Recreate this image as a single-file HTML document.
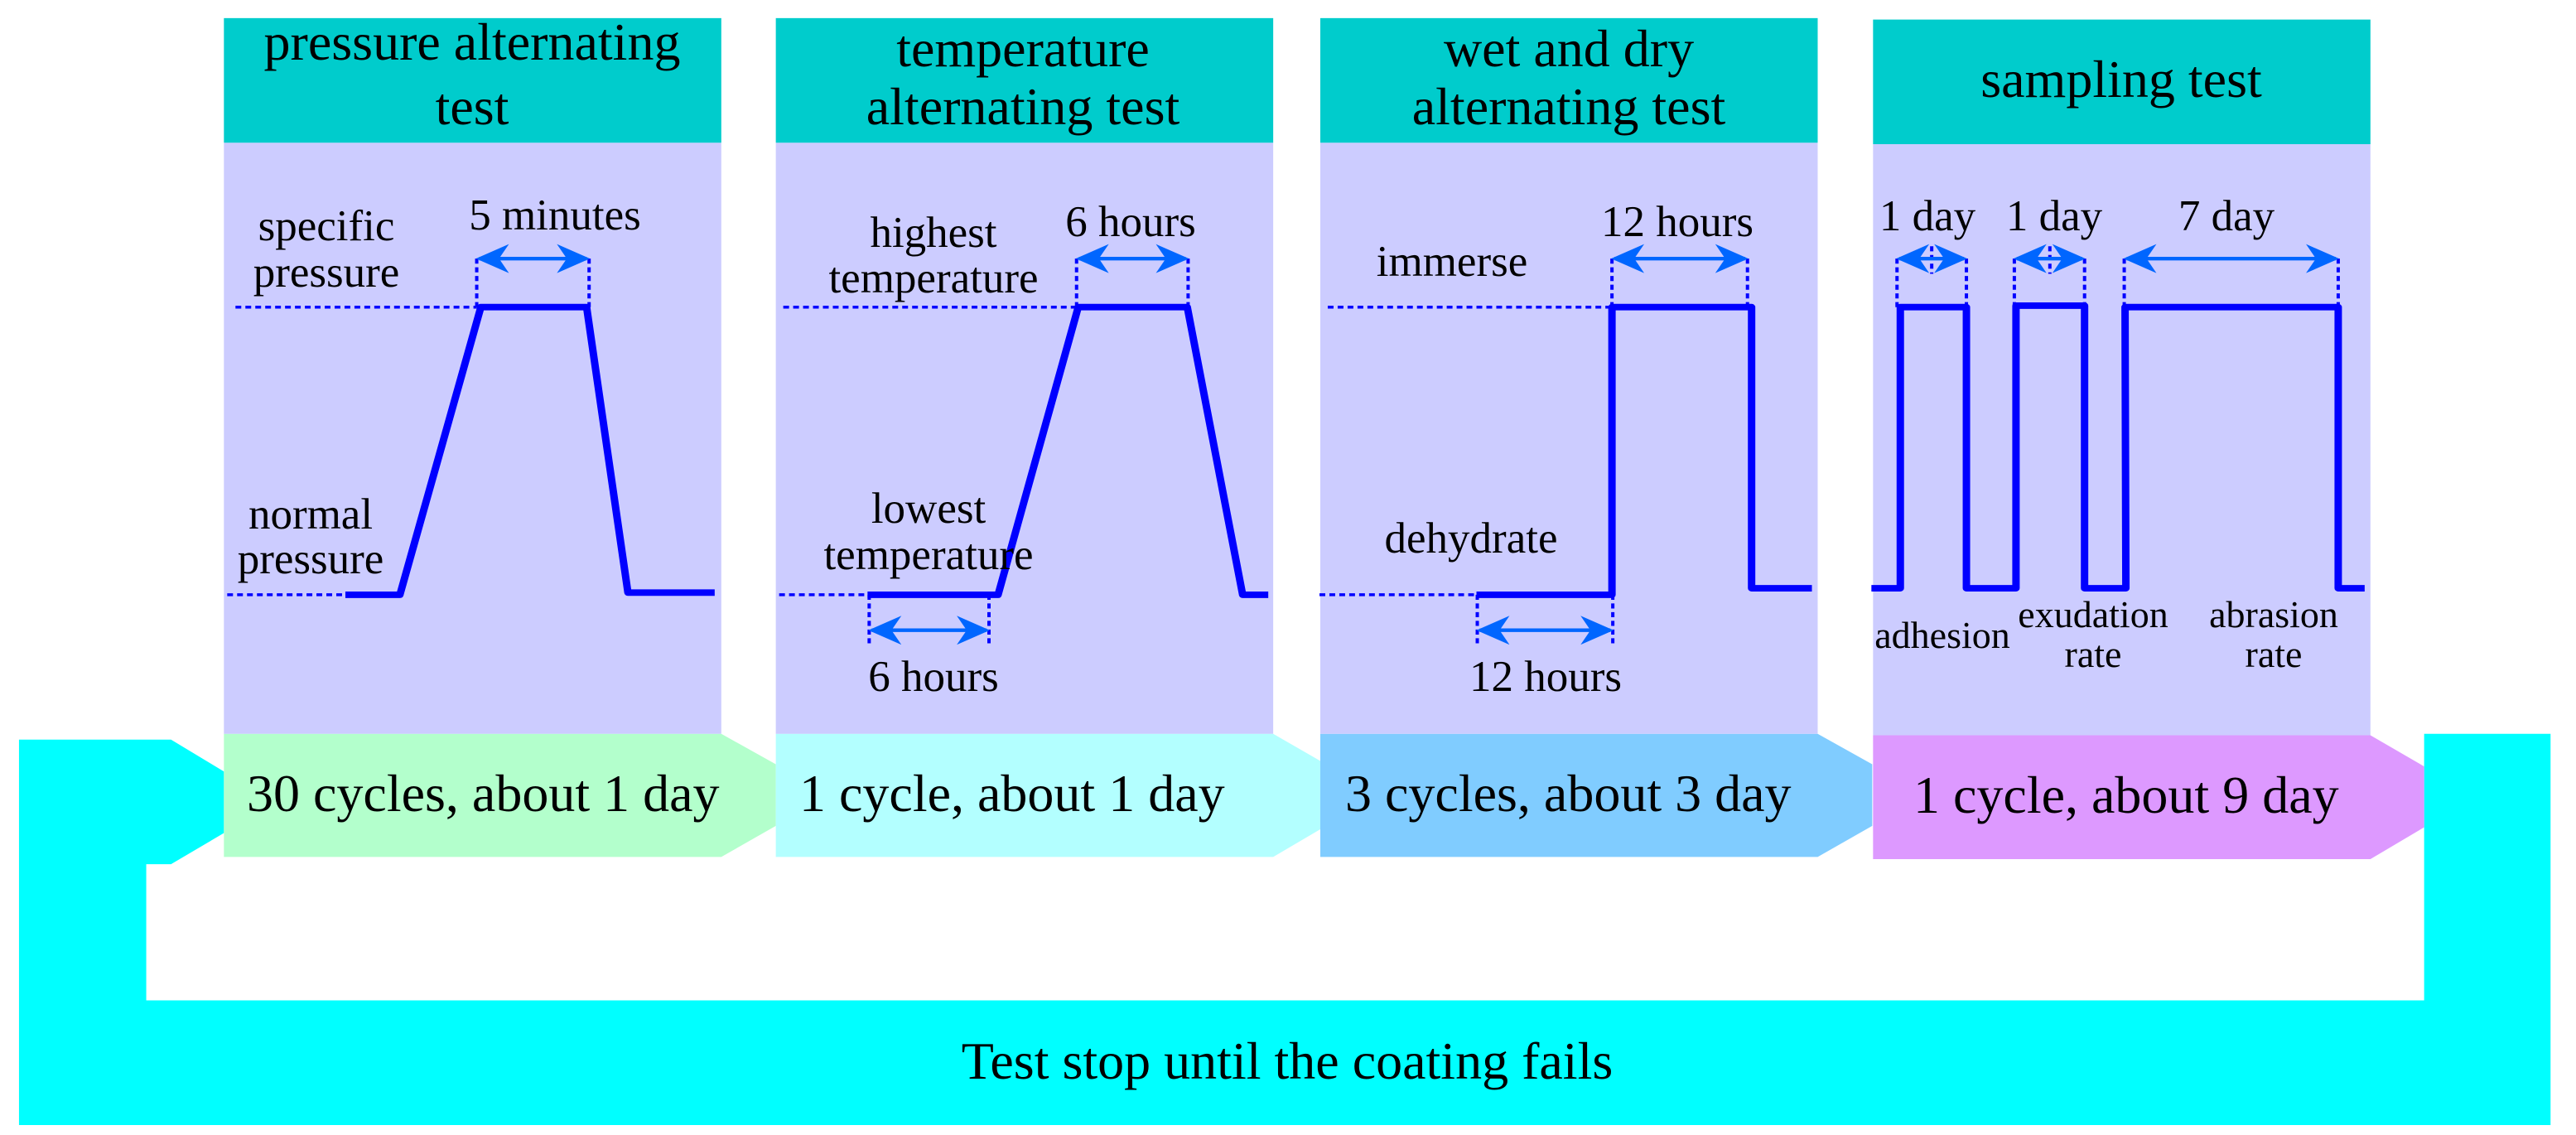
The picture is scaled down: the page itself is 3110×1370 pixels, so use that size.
<!DOCTYPE html>
<html><head><meta charset="utf-8"><style>
html,body{margin:0;padding:0;background:#fff;width:3110px;height:1370px;overflow:hidden}
svg{display:block}
text{font-family:"Liberation Serif",serif;fill:#000}
</style></head><body>
<svg width="3110" height="1370" viewBox="0 0 3110 1370">
<defs>
<marker id="ah" viewBox="0 0 10 10" refX="9" refY="5" markerWidth="9" markerHeight="8" orient="auto-start-reverse" markerUnits="strokeWidth"><path d="M0,0 L10,5 L0,10 L3,5 z" fill="#0066ff"/></marker>
</defs>
<g transform="scale(0.9975,0.8744)">
  <path fill="#00ffff" d="M23,1021 L207,1021 L271,1065 L271,1150 L207,1193 L177,1193 L177,1381 L2934,1381 L2934,1013 L3087,1013 L3087,1553 L23,1553 Z"/>
  <path fill="#b3ffcc" d="M271,1013 L873,1013 L939,1055 L939,1140 L873,1183 L271,1183 Z"/>
  <path fill="#b3ffff" d="M939,1013 L1541,1013 L1605,1055 L1605,1140 L1541,1183 L939,1183 Z"/>
  <path fill="#80ccff" d="M1598,1013 L2200,1013 L2266,1055 L2266,1140 L2200,1183 L1598,1183 Z"/>
  <path fill="#dd99ff" d="M2267,1015 L2869,1015 L2934,1058 L2934,1142 L2869,1186 L2267,1186 Z"/>
  <rect x="271" y="197" width="602" height="816" fill="#ccccff"/>
  <rect x="939" y="197" width="602" height="816" fill="#ccccff"/>
  <rect x="1598" y="197" width="602" height="816" fill="#ccccff"/>
  <rect x="2267" y="199" width="602" height="816" fill="#ccccff"/>
  <rect x="271" y="25" width="602" height="172" fill="#00cccc"/>
  <rect x="939" y="25" width="602" height="172" fill="#00cccc"/>
  <rect x="1598" y="25" width="602" height="172" fill="#00cccc"/>
  <rect x="2267" y="27" width="602" height="172" fill="#00cccc"/>
  <g stroke="#0000ff" stroke-width="4" stroke-dasharray="7,5" fill="none">
    <path d="M285,424 H577 M577,357 V424 M713,357 V424 M275,821 H418"/>
    <path d="M948,424 H1303 M1303,357 V424 M1438,357 V424 M943,821 H1050 M1052,821 V890 M1197,821 V890"/>
    <path d="M1607,424 H1951 M1951,357 V424 M2115,357 V424 M1597,821 H1787 M1788,821 V890 M1952,821 V890"/>
    <path d="M2296,357 V424 M2380,357 V424 M2438,357 V424 M2523,357 V424 M2571,357 V424 M2830,357 V424 M2338,340 V378 M2481,340 V378"/>
  </g>
  <g stroke="#0000ff" stroke-width="9" fill="none" stroke-linejoin="round">
    <polyline points="418,821 484,821 582,424 710,424 760,818 865,818"/>
    <polyline points="1050,821 1208,821 1305,424 1437,424 1504,821 1535,821"/>
    <polyline points="1787,821 1951,821 1951,424 2120,424 2120,812 2193,812"/>
    <polyline points="2265,812 2300,812 2300,424 2380,424 2380,812 2440,812 2440,422 2523,422 2523,812 2573,812 2572,424 2830,424 2830,812 2862,812"/>
  </g>
  <g stroke="#0066ff" stroke-width="5" fill="none" marker-start="url(#ah)" marker-end="url(#ah)">
    <line x1="580" y1="357" x2="710" y2="357"/>
    <line x1="1306" y1="357" x2="1435" y2="357"/>
    <line x1="1055" y1="870" x2="1194" y2="870"/>
    <line x1="1954" y1="357" x2="2112" y2="357"/>
    <line x1="1791" y1="870" x2="1949" y2="870"/>
    <line x1="2299" y1="357" x2="2377" y2="357"/>
    <line x1="2441" y1="357" x2="2520" y2="357"/>
    <line x1="2574" y1="357" x2="2827" y2="357"/>
  </g>
</g>
<g font-size="64" text-anchor="middle">
  <text x="570" y="72">pressure alternating</text>
  <text x="570" y="150">test</text>
  <text x="1235" y="80">temperature</text>
  <text x="1235" y="150">alternating test</text>
  <text x="1894" y="80">wet and dry</text>
  <text x="1894" y="150">alternating test</text>
  <text x="2561" y="117">sampling test</text>
</g>
<g font-size="53" text-anchor="middle">
  <text x="394" y="290">specific</text>
  <text x="394" y="346">pressure</text>
  <text x="670" y="277">5 minutes</text>
  <text x="375" y="638">normal</text>
  <text x="375" y="692">pressure</text>
  <text x="1127" y="298">highest</text>
  <text x="1127" y="353">temperature</text>
  <text x="1365" y="285">6 hours</text>
  <text x="1121" y="631">lowest</text>
  <text x="1121" y="687">temperature</text>
  <text x="1127" y="834">6 hours</text>
  <text x="2025" y="285">12 hours</text>
  <text x="1753" y="333">immerse</text>
  <text x="1776" y="667">dehydrate</text>
  <text x="1866" y="834">12 hours</text>
  <text x="2327" y="278">1 day</text>
  <text x="2480" y="278">1 day</text>
  <text x="2688" y="278">7 day</text>
</g>
<g font-size="46" text-anchor="middle">
  <text x="2345" y="782">adhesion</text>
  <text x="2527" y="757">exudation</text>
  <text x="2527" y="805">rate</text>
  <text x="2745" y="757">abrasion</text>
  <text x="2745" y="805">rate</text>
</g>
<g font-size="64">
  <text x="298" y="979">30 cycles, about 1 day</text>
  <text x="965" y="979">1 cycle, about 1 day</text>
  <text x="1624" y="979">3 cycles, about 3 day</text>
  <text x="2310" y="981">1 cycle, about 9 day</text>
</g>
<text font-size="64" x="1554" y="1302" text-anchor="middle">Test stop until the coating fails</text>
</svg>
</body></html>
